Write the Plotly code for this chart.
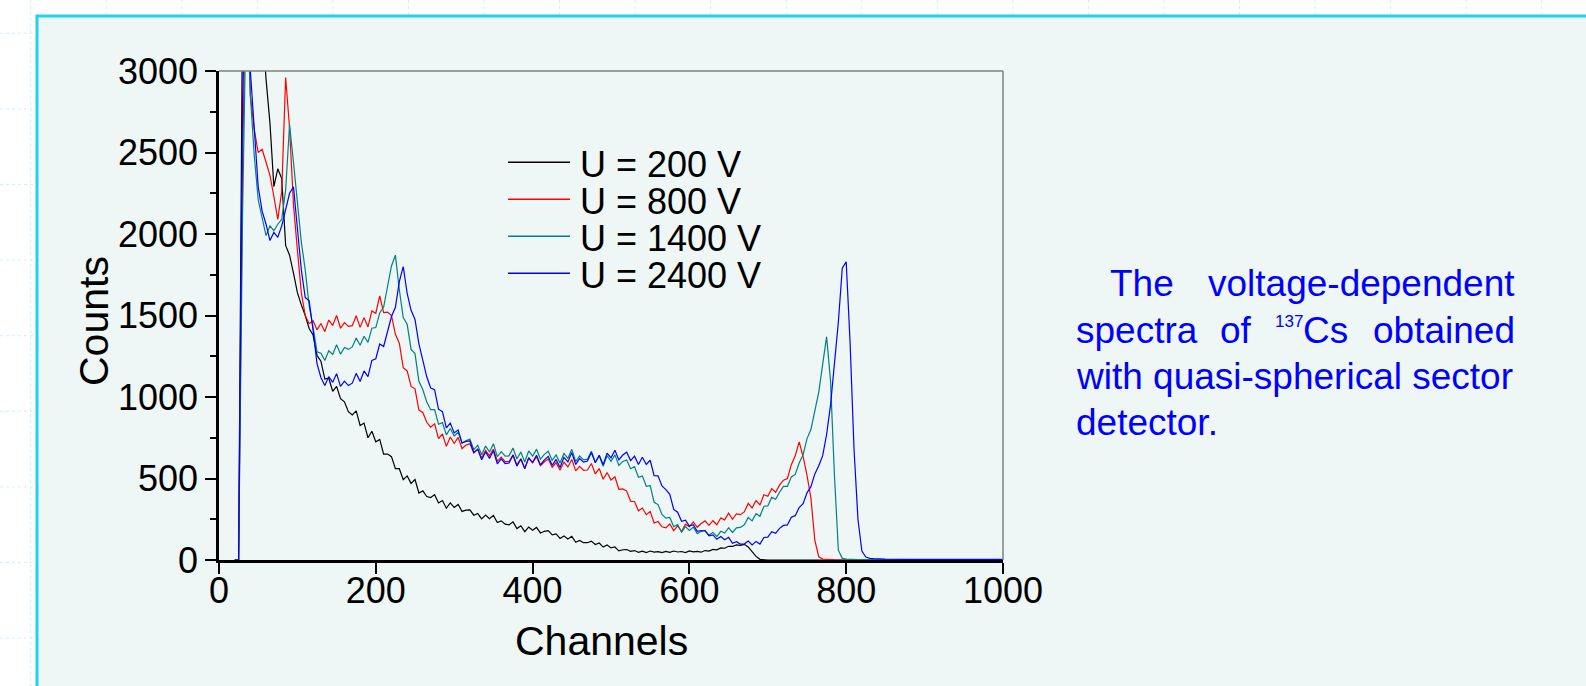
import plotly.graph_objects as go

# ---------------- data ----------------
CHANNELS = list(range(20, 851, 5)) + [880, 920, 960, 1000]

COUNTS_200V = [
    0, 0, 3400, 4200, 4300, 4150, 3800, 3300, 2950, 2680,        # 20-65
    2290, 2400, 2340, 1930, 1870, 1760, 1640, 1565, 1500, 1420,  # 70-115
    1380, 1255, 1220, 1110, 1115, 1035, 1065, 990, 970, 910,     # 120-165
    890, 915, 825, 840, 750, 790, 725, 740, 650, 650,            # 170-215
    634, 560, 560, 493, 516, 470, 494, 411, 424, 389,            # 220-265
    383, 401, 350, 365, 318, 350, 322, 341, 298, 306,            # 270-315
    308, 275, 285, 252, 276, 253, 274, 230, 240, 220,            # 320-365
    216, 234, 193, 210, 174, 202, 183, 200, 166, 176,            # 370-415
    180, 154, 160, 132, 148, 129, 145, 109, 120, 106,            # 420-465
    106, 116, 95, 104, 79, 92, 74, 80, 56, 63,                   # 470-515
    64, 53, 58, 47, 54, 46, 55, 48, 51, 45,                      # 520-565
    53, 47, 55, 49, 52, 46, 56, 50, 53, 48,                      # 570-615
    58, 55, 65, 62, 74, 72, 84, 83, 93, 90,                      # 620-665
    96, 80, 52, 22, 4, 0, 0, 0, 0, 0,                            # 670-715
    0, 0, 0, 0, 0, 0, 0, 0, 0, 0,                                # 720-765
    0, 0, 0, 0, 0, 0, 0, 0, 0, 0,                                # 770-815
    0, 0, 0, 0, 0, 0, 0,                                         # 820-850
    0, 0, 0, 0,                                                  # tail
]

COUNTS_800V = [
    0, 0, 2400, 3800, 2850, 2640, 2500, 2520, 2440, 2360,
    2230, 2090, 2260, 2960, 2650, 2180, 1900, 1640, 1500, 1450,
    1468, 1412, 1451, 1401, 1472, 1439, 1500, 1422, 1456, 1433,
    1438, 1499, 1427, 1487, 1430, 1528, 1514, 1620, 1518, 1521,
    1500, 1385, 1330, 1180, 1160, 1065, 1050, 920, 905, 845,
    815, 835, 745, 773, 697, 755, 715, 752, 683, 705,
    713, 656, 679, 626, 673, 639, 680, 606, 631, 603,
    604, 646, 584, 621, 565, 624, 596, 634, 578, 603,
    619, 568, 597, 550, 601, 571, 617, 547, 575, 550,
    552, 592, 528, 561, 495, 537, 491, 511, 434, 436,
    423, 360, 359, 302, 319, 278, 297, 227, 236, 204,
    197, 221, 180, 209, 175, 220, 205, 234, 201, 224,
    240, 213, 241, 216, 258, 246, 287, 250, 283, 278,
    295, 347, 319, 365, 338, 400, 391, 438, 416, 459,
    490, 500, 585, 640, 725, 635, 520, 380, 120, 20,
    6, 3, 2, 1, 0, 0, 0, 0, 0, 0,
    0, 0, 0, 0, 0, 0, 0,
    0, 0, 0, 0,
]

COUNTS_1400V = [
    0, 0, 2100, 3500, 2850, 2480, 2210, 2090, 1990, 2050,
    2020, 2060, 2090, 2270, 2670, 2440, 2190, 1950, 1780, 1560,
    1427, 1278, 1269, 1224, 1283, 1261, 1320, 1263, 1304, 1292,
    1307, 1362, 1318, 1373, 1335, 1422, 1426, 1516, 1552, 1669,
    1804, 1870, 1658, 1488, 1446, 1292, 1266, 1096, 1044, 969,
    922, 922, 833, 843, 768, 807, 761, 784, 717, 731,
    742, 677, 704, 646, 699, 663, 713, 634, 665, 637,
    639, 687, 620, 663, 601, 669, 637, 680, 619, 648,
    667, 611, 645, 595, 654, 624, 679, 604, 639, 614,
    619, 667, 600, 640, 575, 640, 605, 645, 580, 605,
    614, 560, 573, 508, 516, 452, 456, 354, 340, 280,
    257, 261, 204, 217, 171, 205, 181, 202, 162, 176,
    182, 153, 169, 144, 176, 165, 198, 169, 197, 200,
    216, 261, 240, 284, 268, 330, 332, 384, 373, 416,
    452, 452, 510, 525, 595, 645, 745, 800, 920, 1030,
    1200, 1370, 1100, 520, 60, 10, 5, 3, 2, 2,
    3, 1, 2, 1, 2, 1, 1,
    1, 1, 0, 1,
]

COUNTS_2400V = [
    0, 0, 2800, 3800, 3000, 2620, 2290, 2140, 2060, 1960,
    2010, 1980, 2050, 2150, 2250, 2290, 2030, 1780, 1610, 1590,
    1410, 1205, 1120, 1070, 1125, 1090, 1143, 1065, 1097, 1070,
    1085, 1145, 1095, 1160, 1125, 1225, 1235, 1325, 1310, 1395,
    1494, 1550, 1708, 1800, 1636, 1532, 1476, 1326, 1224, 1124,
    1055, 1045, 925, 910, 810, 840, 780, 798, 718, 728,
    730, 660, 680, 615, 663, 623, 670, 590, 620, 592,
    595, 643, 576, 620, 559, 628, 598, 643, 583, 614,
    635, 581, 617, 568, 630, 602, 659, 586, 623, 600,
    607, 659, 596, 643, 585, 656, 627, 673, 614, 644,
    661, 610, 637, 586, 630, 586, 612, 518, 516, 454,
    432, 403, 310, 293, 238, 244, 208, 216, 176, 181,
    178, 148, 154, 127, 144, 124, 139, 103, 112, 98,
    98, 116, 92, 114, 98, 138, 140, 174, 164, 194,
    212, 215, 262, 272, 322, 345, 412, 450, 528, 578,
    640, 770, 950, 1200, 1460, 1790, 1830, 1330, 680, 250,
    55, 18, 10, 8, 6, 8, 5,
    4, 5, 3, 4,
]

SERIES_NAMES = ["U = 200 V", "U = 800 V", "U = 1400 V", "U = 2400 V"]
SERIES_VALUES = [COUNTS_200V, COUNTS_800V, COUNTS_1400V, COUNTS_2400V]
SERIES_COLORS = ["#000000", "#ff0000", "#008080", "#0000ff"]

X_TICKS = [0, 200, 400, 600, 800, 1000]
Y_TICKS = [0, 500, 1000, 1500, 2000, 2500, 3000]

# ---------------- geometry helpers (pixel -> paper) ----------------
W, H = 1586, 686
ML, MR, MT, MB = 219, 583, 71, 126
PW = W - ML - MR
PH = H - MT - MB


def px(x):
    return (x - ML) / PW


def py(y):
    return (H - MB - y) / PH


FONT = "Arial, 'Liberation Sans', sans-serif"

fig = go.Figure()
for name, vals, col in zip(SERIES_NAMES, SERIES_VALUES, SERIES_COLORS):
    fig.add_trace(go.Scatter(
        x=CHANNELS, y=vals, mode="lines", name=name,
        line=dict(color=col, width=1.2), showlegend=False,
        hoverinfo="skip",
    ))

shapes = []
# faint slide grid (outside the panel)
for k in range(22):
    x = 30.7 + 75.55 * k
    shapes.append(dict(type="line", xref="paper", yref="paper",
                       x0=px(x), x1=px(x), y0=py(0), y1=py(H),
                       line=dict(color="#cfeff8", width=1, dash="dot"),
                       layer="below"))
for k in range(10):
    y = 33.3 + 75.6 * k
    shapes.append(dict(type="line", xref="paper", yref="paper",
                       x0=px(0), x1=px(W), y0=py(y), y1=py(y),
                       line=dict(color="#cfeff8", width=1, dash="dot"),
                       layer="below"))
# panel
shapes.append(dict(type="rect", xref="paper", yref="paper",
                   x0=px(37), x1=px(W + 30), y0=py(16), y1=py(H + 30),
                   fillcolor="#eef6f6", line=dict(color="#22cff5", width=3),
                   layer="below"))
# top / right frame of plot
shapes.append(dict(type="line", xref="paper", yref="paper", x0=0, x1=1, y0=1, y1=1,
                   line=dict(color="#808080", width=1.5)))
shapes.append(dict(type="line", xref="paper", yref="paper", x0=1, x1=1, y0=0, y1=1,
                   line=dict(color="#808080", width=1.5)))

annotations = []
# custom legend
for i, (name, col) in enumerate(zip(SERIES_NAMES, SERIES_COLORS)):
    yl = 162.3 + 37.0 * i
    shapes.append(dict(type="line", xref="paper", yref="paper",
                       x0=px(508), x1=px(570), y0=py(yl), y1=py(yl),
                       line=dict(color=col, width=1.5)))
    annotations.append(dict(text=name, xref="paper", yref="paper",
                            x=px(578), y=py(yl + 2), xanchor="left", yanchor="middle",
                            showarrow=False, font=dict(family=FONT, size=36, color="black")))

# axis titles
annotations.append(dict(text="Counts", xref="paper", yref="paper", x=px(94), y=py(321),
                        textangle=-90, xanchor="center", yanchor="middle", showarrow=False,
                        font=dict(family=FONT, size=41, color="black")))
annotations.append(dict(text="Channels", xref="paper", yref="paper", x=px(601), y=py(641),
                        xanchor="center", yanchor="middle", showarrow=False,
                        font=dict(family=FONT, size=41, color="black")))

# right-hand caption (justified by word placement)
BLUE_TXT = "#0000ff"
FS = 37


def word(text, x, y, anchor="left", size=FS):
    annotations.append(dict(text=text, xref="paper", yref="paper", x=px(x), y=py(y),
                            xanchor=anchor, yanchor="middle", showarrow=False,
                            font=dict(family=FONT, size=size, color=BLUE_TXT)))


word("The", 1108, 283)
word("voltage-dependent", 1517, 283, "right")
word("spectra", 1074, 330)
word("of", 1218, 330)
word("137", 1273, 321, size=17)
word("Cs", 1301, 330)
word("obtained", 1517, 330, "right")
word("with quasi-spherical sector", 1074, 377)
word("detector.", 1074, 422)

fig.update_layout(
    width=W, height=H, autosize=False,
    margin=dict(l=ML, r=MR, t=MT, b=MB, pad=0),
    paper_bgcolor="white", plot_bgcolor="#eef6f6",
    showlegend=False,
    shapes=shapes, annotations=annotations,
    font=dict(family=FONT, color="black"),
    xaxis=dict(range=[0, 1000], tickvals=X_TICKS, ticks="outside", ticklen=11,
               tickwidth=2, tickcolor="black", showline=True, linecolor="black",
               linewidth=2.5, showgrid=False, zeroline=False, ticklabelstandoff=-14,
               tickfont=dict(family=FONT, size=36, color="black")),
    yaxis=dict(range=[0, 3000], tickvals=Y_TICKS, ticks="outside", ticklen=11,
               tickwidth=2, tickcolor="black", showline=True, linecolor="black",
               linewidth=2.5, showgrid=False, zeroline=False,
               minor=dict(dtick=250, ticks="outside", ticklen=6, tickwidth=2,
                          tickcolor="black", showgrid=False),
               tickfont=dict(family=FONT, size=36, color="black")),
)

fig.write_html("out.html", config={"displayModeBar": False},
               post_script="document.body.style.margin='0';document.body.style.overflow='hidden';")
